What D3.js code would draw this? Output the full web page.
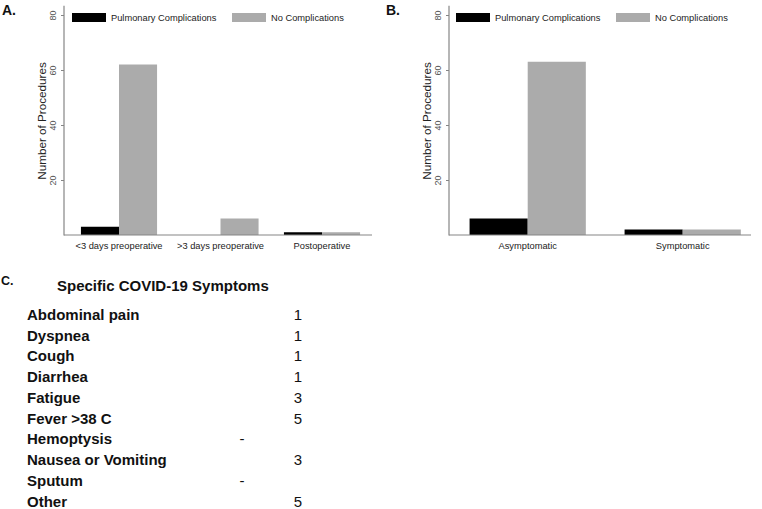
<!DOCTYPE html>
<html><head><meta charset="utf-8">
<script src="https://cdn.jsdelivr.net/npm/d3@7"></script>
<style>body{margin:0;background:#fff}svg{font-family:"Liberation Sans",Arial,sans-serif;display:block}</style>
</head><body><svg width="762" height="509"></svg>
<script>
const timingCategories = ["<3 days preoperative", ">3 days preoperative", "Postoperative"];
const timingPulmonary = [3, 0, 1];
const timingNone = [62, 6, 1];
const symptomCategories = ["Asymptomatic", "Symptomatic"];
const symptomPulmonary = [6, 2];
const symptomNone = [63, 2];
const seriesNames = ["Pulmonary Complications", "No Complications"];
const seriesColors = ["#000000", "#ababab"];
const yTicks = [20, 40, 60, 80];
const specificSymptoms = ["Abdominal pain", "Dyspnea", "Cough", "Diarrhea", "Fatigue", "Fever >38 C", "Hemoptysis", "Nausea or Vomiting", "Sputum", "Other"];
const specificCounts = [1, 1, 1, 1, 3, 5, null, 3, null, 5];

const svg = d3.select("svg");
const y = d3.scaleLinear().domain([0, 80]).range([235, 15]);

function panel(o) {
  const g = svg.append("g");
  const x = d3.scaleBand().domain(o.cats).range(o.band).paddingInner(0.25).paddingOuter(0.125);
  const xs = d3.scaleBand().domain([0, 1]).range([0, x.bandwidth()]);
  const data = o.cats.map((c, i) => ({c, v: [o.s1[i], o.s2[i]]}));
  // bars
  data.forEach(d => {
    g.selectAll(null).data(d.v.map((v, k) => ({v, k}))).enter().append("rect")
      .attr("x", e => x(d.c) + xs(e.k))
      .attr("width", xs.bandwidth())
      .attr("y", e => y(e.v))
      .attr("height", e => y(0) - y(e.v))
      .attr("fill", e => seriesColors[e.k]);
  });
  // axes lines
  g.append("line").attr("x1", o.ax).attr("x2", o.ax).attr("y1", y(83.4)).attr("y2", y(0) + 0.5)
    .attr("stroke", "#858585").attr("stroke-width", 1.2);
  g.append("line").attr("x1", o.ax).attr("x2", o.axEnd).attr("y1", y(0)).attr("y2", y(0))
    .attr("stroke", "#858585").attr("stroke-width", 1.2);
  // y axis
  const ya = g.append("g").attr("transform", `translate(${o.ax},0)`)
    .call(d3.axisLeft(y).tickValues(yTicks).tickSize(3).tickPadding(0));
  ya.select(".domain").remove();
  ya.selectAll(".tick line").attr("stroke", "#858585");
  ya.selectAll(".tick text").attr("x", null).attr("dy", null)
    .attr("transform", "translate(-8,0) rotate(-90)")
    .attr("text-anchor", "middle").attr("font-size", 9).attr("fill", "#555")
    .attr("font-family", "Liberation Sans, Arial, sans-serif");
  // x labels
  g.selectAll(null).data(o.cats).enter().append("text")
    .attr("x", d => x(d) + x.bandwidth() / 2).attr("y", 249)
    .attr("text-anchor", "middle").attr("font-size", 9.3).attr("fill", "#222").text(d => d);
  // y title
  g.append("text").attr("transform", `translate(${o.ax - 18},${121}) rotate(-90)`)
    .attr("text-anchor", "middle").attr("font-size", 11.7).attr("fill", "#222").text("Number of Procedures");
  // legend
  seriesNames.forEach((n, k) => {
    g.append("rect").attr("x", o.leg[k]).attr("y", 13).attr("width", 34).attr("height", 9).attr("fill", seriesColors[k]);
    g.append("text").attr("x", o.leg[k] + 39).attr("y", 21).attr("font-size", 9.3).attr("fill", "#222").text(n);
  });
  // panel label
  svg.append("text").attr("x", o.lx).attr("y", 15).attr("font-size", 14).attr("font-weight", "bold").attr("fill", "#111").text(o.label);
}

panel({cats: timingCategories, s1: timingPulmonary, s2: timingNone, band: [68.25, 372.75], ax: 64, axEnd: 372, leg: [72, 232], label: "A.", lx: 2});
panel({cats: symptomCategories, s1: symptomPulmonary, s2: symptomNone, band: [450.2, 760.2], ax: 449, axEnd: 751, leg: [456, 616], label: "B.", lx: 386});

// Panel C
svg.append("text").attr("x", 1).attr("y", 285).attr("font-size", 12.5).attr("font-weight", "bold").attr("fill", "#111").text("C.");
svg.append("text").attr("x", 57).attr("y", 290.5).attr("font-size", 15).attr("font-weight", "bold").attr("fill", "#111").text("Specific COVID-19 Symptoms");
const rowY = d3.scalePoint().domain(specificSymptoms).range([320, 506.5]);
svg.selectAll(null).data(specificSymptoms).enter().append("text")
  .attr("x", 27).attr("y", d => rowY(d)).attr("font-size", 15).attr("font-weight", "bold").attr("fill", "#111").text(d => d);
svg.selectAll(null).data(specificSymptoms.map((s, i) => ({s, c: specificCounts[i]}))).enter().append("text")
  .attr("x", d => d.c == null ? 242 : 298).attr("y", d => rowY(d.s)).attr("text-anchor", "middle")
  .attr("font-size", 15).attr("fill", "#111").text(d => d.c == null ? "-" : d.c);
</script></body></html>
